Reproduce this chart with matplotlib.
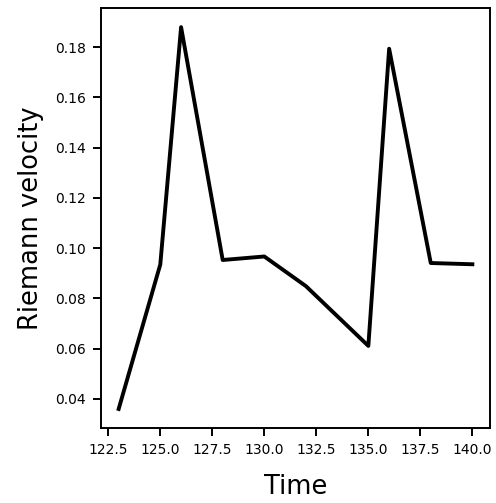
import matplotlib
matplotlib.use("Agg")
import matplotlib.pyplot as plt

# -----------------------------
# Data
# -----------------------------
time = [123, 125, 126, 128, 130, 132, 135, 136, 138, 140]
riemann_velocity = [0.036, 0.0935, 0.188, 0.0953, 0.0967, 0.0849, 0.0611, 0.1794, 0.0941, 0.0936]

# -----------------------------
# Plot
# -----------------------------
fig = plt.figure(figsize=(4.96, 5.03), dpi=100)
ax = fig.add_axes([0.2036, 0.149, 0.7844, 0.835])

ax.plot(time, riemann_velocity, color="black", linewidth=2.8)

ax.set_xlabel("Time", fontsize=18.5, labelpad=12)
ax.set_ylabel("Riemann velocity", fontsize=18.5, labelpad=8)
ax.tick_params(labelsize=10, length=5.8, width=1.4, pad=5)
for spine in ax.spines.values():
    spine.set_linewidth(1.4)

fig.savefig("out.png", dpi=100)
